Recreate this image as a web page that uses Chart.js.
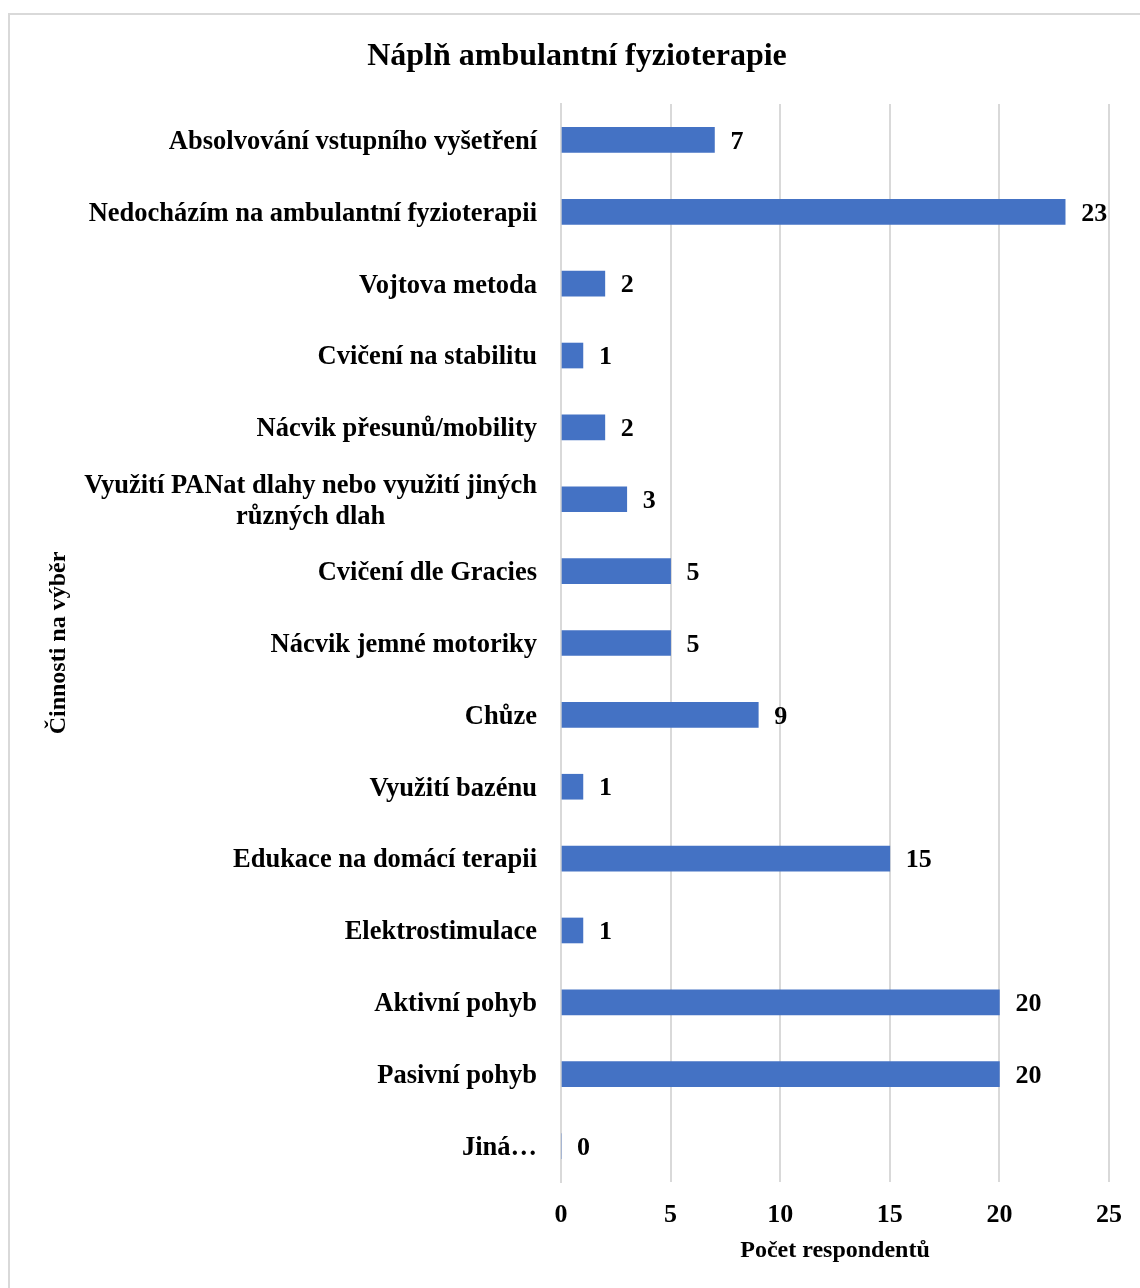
<!DOCTYPE html>
<html>
<head>
<meta charset="utf-8">
<script src="https://cdn.jsdelivr.net/npm/chart.js@4/dist/chart.umd.min.js"></script>
<style>
  html, body { margin: 0; padding: 0; background: #fff; overflow: hidden; }
  #wrap { position: relative; width: 1140px; height: 1288px; }
  #frame { position: absolute; left: 8px; top: 13px; width: 1200px; height: 1400px; border: 2px solid #d9d9d9; }
  canvas { position: absolute; left: 0; top: 0; }
</style>
</head>
<body>
<div id="wrap">
  <div id="frame"></div>
  <canvas id="fyzioChart" width="1140" height="1288"></canvas>
</div>
<script>
const categories = [
  "Absolvování vstupního vyšetření",
  "Nedocházím na ambulantní fyzioterapii",
  "Vojtova metoda",
  "Cvičení na stabilitu",
  "Nácvik přesunů/mobility",
  ["Využití PANat dlahy nebo využití jiných", "různých dlah"],
  "Cvičení dle Gracies",
  "Nácvik jemné motoriky",
  "Chůze",
  "Využití bazénu",
  "Edukace na domácí terapii",
  "Elektrostimulace",
  "Aktivní pohyb",
  "Pasivní pohyb",
  "Jiná…"
]
const respondents = [7, 23, 2, 1, 2, 3, 5, 5, 9, 1, 15, 1, 20, 20, 0]
const xTicks = [0, 5, 10, 15, 20, 25]
const xTitle = "Počet respondentů"

const serif = "'Liberation Serif', 'Times New Roman', serif"
const black = "#000"

// category labels drawn by hand so that wrapped lines are centred with each other
const categoryLabels = {
  id: "categoryLabels",
  afterDraw(chart) {
    const { ctx, scales: { y } } = chart
    const right = chart.chartArea.left - 24
    ctx.save()
    ctx.font = `bold 26.5px ${serif}`
    ctx.fillStyle = black
    ctx.textBaseline = "middle"
    categories.forEach((label, i) => {
      const cy = y.getPixelForValue(i) + 2
      const lines = Array.isArray(label) ? label : [label]
      if (lines.length === 1) {
        ctx.textAlign = "right"
        ctx.fillText(lines[0], right, cy)
        return
      }
      const w = Math.max(...lines.map(l => ctx.measureText(l).width))
      const lh = 31
      ctx.textAlign = "center"
      lines.forEach((l, k) => {
        ctx.fillText(l, right - w / 2, cy + (k - (lines.length - 1) / 2) * lh)
      })
    })

    // x axis title, centred under the plot
    const area = chart.chartArea
    ctx.font = `bold 24px ${serif}`
    ctx.textAlign = "center"
    ctx.fillText(xTitle, (area.left + area.right) / 2, area.bottom + 69)
    ctx.restore()
  }
}

const valueLabels = {
  id: "valueLabels",
  afterDatasetsDraw(chart) {
    const { ctx } = chart
    const meta = chart.getDatasetMeta(0)
    ctx.save()
    ctx.font = `bold 26px ${serif}`
    ctx.fillStyle = black
    ctx.textAlign = "left"
    ctx.textBaseline = "middle"
    meta.data.forEach((bar, i) => {
      ctx.fillText(String(respondents[i]), bar.x + 16, bar.y + 2)
    })
    ctx.restore()
  }
}

new Chart(document.getElementById("fyzioChart"), {
  type: "bar",
  data: {
    labels: categories,
    datasets: [{
      data: respondents,
      backgroundColor: "#4472C4",
      borderWidth: 0,
      barThickness: 25
    }]
  },
  options: {
    indexAxis: "y",
    responsive: false,
    animation: false,
    layout: { padding: { left: 44, right: 30, top: 38, bottom: 0 } },
    plugins: {
      legend: { display: false },
      tooltip: { enabled: false },
      title: {
        display: true,
        text: "Náplň ambulantní fyzioterapie",
        color: black,
        font: { family: serif, size: 32, weight: "bold" },
        padding: { top: 0, bottom: 27.6 }
      }
    },
    scales: {
      x: {
        min: 0,
        max: 25,
        afterBuildTicks: axis => { axis.ticks = xTicks.map(v => ({ value: v })) },
        afterFit: axis => { axis.height = 106 },
        grid: { color: "#d9d9d9", lineWidth: 2, drawTicks: false },
        border: { display: false },
        ticks: {
          color: black,
          padding: 18,
          font: { family: serif, size: 26, weight: "bold" }
        }
      },
      y: {
        grid: { display: false },
        border: { color: "#d9d9d9", width: 2 },
        ticks: { display: false },
        afterFit: axis => { axis.width = 561 - 44 },
        title: {
          display: true,
          text: "Činnosti na výběr",
          color: black,
          font: { family: serif, size: 24, weight: "bold" },
          padding: 0
        }
      }
    }
  },
  plugins: [categoryLabels, valueLabels]
})
</script>
</body>
</html>
